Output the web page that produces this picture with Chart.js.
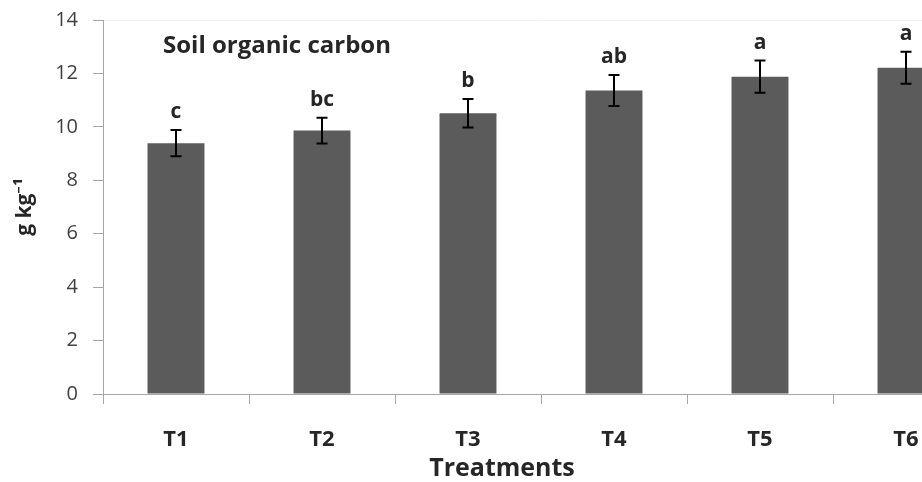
<!DOCTYPE html>
<html>
<head>
<meta charset="utf-8">
<script src="https://cdn.jsdelivr.net/npm/chart.js@4.4.1/dist/chart.umd.min.js"></script>
<style>
  html, body { margin: 0; padding: 0; background: #fff; width: 922px; height: 482px; overflow: hidden; }
  #chart { display: block; }
</style>
</head>
<body>
<canvas id="chart" width="990" height="482"></canvas>
<script>
// data
var categories = ['T1', 'T2', 'T3', 'T4', 'T5', 'T6'];
var carbon = [9.39, 9.86, 10.51, 11.36, 11.88, 12.21];
var errors = [0.49, 0.48, 0.53, 0.58, 0.60, 0.60];
var letters = ['c', 'bc', 'b', 'ab', 'a', 'a'];

var chartTitle = 'Soil organic carbon';
var xTitle = 'Treatments';
var yTitle = 'g kg\u207B\u00B9';

var fontName = '"Open Sans", "Noto Sans", sans-serif';

// error bars, significance letters, in-plot title
var extras = {
    id: 'extras',
    afterDatasetsDraw: function (chart) {
        var c = chart.ctx;
        var x = chart.scales.x;
        var y = chart.scales.y;
        c.save();
        c.strokeStyle = '#000';
        c.lineWidth = 2;
        carbon.forEach(function (v, i) {
            var px = x.getPixelForValue(i);
            var hi = y.getPixelForValue(v + errors[i]);
            var lo = y.getPixelForValue(v - errors[i]);
            c.beginPath();
            c.moveTo(px, hi); c.lineTo(px, lo);
            c.moveTo(px - 5.5, hi); c.lineTo(px + 5.5, hi);
            c.moveTo(px - 5.5, lo); c.lineTo(px + 5.5, lo);
            c.stroke();

            c.fillStyle = '#262626';
            c.font = 'bold 21px ' + fontName;
            c.textAlign = 'center';
            c.textBaseline = 'alphabetic';
            c.fillText(letters[i], px, hi - 12);
        });

        c.fillStyle = '#262626';
        c.font = 'bold 24px ' + fontName;
        c.textAlign = 'left';
        c.fillText(chartTitle, chart.chartArea.left + 60, 53);

        c.font = 'bold 25px ' + fontName;
        c.textAlign = 'center';
        c.textBaseline = 'middle';
        c.fillText(xTitle, 502, 469);
        c.restore();
    }
};

var ctx = document.getElementById('chart');

var myChart = new Chart(ctx, {
    type: 'bar',
    data: {
        labels: categories,
        datasets: [{
            data: carbon,
            backgroundColor: '#5b5b5b',
            borderWidth: 0,
            categoryPercentage: 1,
            barPercentage: 0.39
        }]
    },
    options: {
        responsive: false,
        animation: false,
        layout: {
            padding: { top: 20, right: 11, bottom: 0, left: 0 }
        },
        plugins: {
            legend: { display: false },
            tooltip: { enabled: false }
        },
        scales: {
            x: {
                offset: true,
                afterFit: function (scale) { scale.height = 88; },
                border: { color: '#a6a6a6', width: 1 },
                grid: {
                    offset: true,
                    drawOnChartArea: false,
                    tickLength: 10,
                    tickColor: '#a6a6a6'
                },
                ticks: {
                    color: '#262626',
                    padding: 23,
                    font: { family: fontName, size: 22, weight: 'bold' }
                }
            },
            y: {
                min: 0,
                max: 14,
                afterFit: function (scale) {
                    scale.width = 103;
                    scale.paddingTop = 0;
                    scale.paddingBottom = 0;
                },
                border: { color: '#a6a6a6', width: 1 },
                grid: {
                    color: function (c) { return c.tick && c.tick.value === 14 ? '#f2f2f2' : 'rgba(0,0,0,0)'; },
                    tickColor: '#a6a6a6',
                    tickLength: 10
                },
                ticks: {
                    stepSize: 2,
                    color: '#404040',
                    padding: 15,
                    font: { family: fontName, size: 20 }
                },
                title: {
                    display: true,
                    text: yTitle,
                    color: '#262626',
                    padding: { top: 12, bottom: 0 },
                    font: { family: fontName, size: 21, weight: 'bold' }
                }
            }
        }
    },
    plugins: [extras]
});
</script>
</body>
</html>
